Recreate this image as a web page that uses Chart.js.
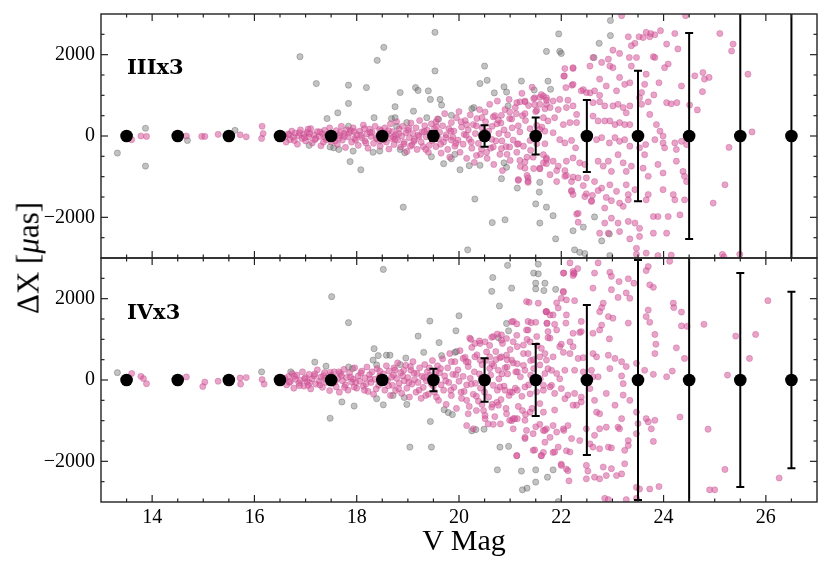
<!DOCTYPE html>
<html><head><meta charset="utf-8">
<script src="https://cdn.jsdelivr.net/npm/chart.js@4"></script>
<style>
body{margin:0;background:#fff;}
#wrap{position:relative;width:831px;height:564px;overflow:hidden;background:#fff;}
canvas{position:absolute;left:0;top:0;}
.lbl{position:absolute;font-family:'Liberation Serif',serif;color:#000;white-space:nowrap;}
.pan{position:absolute;font-family:'DejaVu Serif',serif;font-weight:bold;font-size:21px;line-height:21px;color:#000;white-space:nowrap;}
</style></head>
<body>
<div id="wrap">
<canvas id="cTop" width="831" height="564"></canvas>
<canvas id="cBot" width="831" height="564"></canvas>
<div class="lbl" style="left:28px;top:258px;font-size:31px;line-height:31px;transform:translate(-50%,-50%) rotate(-90deg);">ΔX [<i>μ</i>as]</div>
<div class="lbl" style="left:464px;top:525px;font-size:30px;line-height:30px;transform:translateX(-50%);">V Mag</div>
<div class="pan" style="left:127px;top:56px;">IIIx3</div>
<div class="pan" style="left:127px;top:301px;">IVx3</div>
</div>
<script>
// ---------- data ----------
const magBins = [13.5,14.5,15.5,16.5,17.5,18.5,19.5,20.5,21.5,22.5,23.5,24.5,25.5,26.5];
const topMeans = [0,0,0,0,0,0,0,0,0,0,0,0,0,0];
const topErr   = [20,20,30,40,50,80,120,265,457,884,1605,2533,4000,5500];
const botMeans = [0,0,0,0,0,0,0,0,0,0,0,0,0,0];
const botErr   = [30,30,40,40,60,100,275,535,884,1844,2950,4500,2630,2173];

const xMajorTicks = [14,16,18,20,22,24,26];
const xMinorTicks = [13.5,14.5,15,15.5,16.5,17,17.5,18.5,19,19.5,20.5,21,21.5,22.5,23,23.5,24.5,25,25.5,26.5];
const yMajorTicks = [-2000,0,2000];
const yMinorTicks = [-2500,-1500,-1000,-500,500,1000,1500,2500];

const topGray = [[13.32,-420],[13.87,190],[13.87,-740],[14.69,-110],[15.62,140],
[16.89,1950],[17.21,1290],[17.42,430],[17.63,570],[17.84,1250],[17.84,800],[18.19,1190],[18.40,1860],[18.53,2180],
[17.87,-630],[18.08,-830],[17.93,-370],[17.55,-290],[17.65,-330],[17.48,-270],[17.07,-230],[18.32,-400],[18.45,-370],[18.91,-1750],
[18.85,1070],[18.75,720],[18.68,430],[18.78,240],[18.34,450],[17.84,240],
[19.53,2550],[19.53,1600],[19.15,1190],[19.2,1120],[19.4,1110],[19.44,900],[19.63,900],[19.66,760],[19.11,610],[18.98,330],[18.75,450],[19.37,450],[19.6,410],[19.85,510],[20.25,670],[20.29,700],
[20.5,1720],[20.41,1290],[20.55,1370],[20.69,1060],[20.88,1210],[20.93,1080],[20.96,740],[21.22,1350],[21.47,1130],[21.71,2080],[21.74,1350],[21.79,1150],
[18.85,-330],[18.94,-410],[19.46,-510],[19.7,-680],[19.85,-560],[19.92,-450],[20.02,-830],[20.2,-730],[20.41,-720],[20.31,-1550],[20.65,-2130],[20.9,-2060],[20.17,-2800],[20.83,-1050],[20.88,-660],[20.93,-770],[21.14,-1280],[21.58,-1140],[21.57,-1380],[21.5,-1670],[21.58,-2140],[21.71,-1750],
[21.95,2510],[22.96,2840],[22.96,2470],[22.74,2280],[22.64,1930],[21.97,2080],[22.0,2030],[21.84,-1960],[22.43,-2240],[22.23,-2330],[21.89,-2530],[22.65,-1990],[22.94,-2410],[22.26,-2800],[22.36,-2860],[22.46,-2890],[22.95,-2940],[22.79,-2580]];

const topPink = [[13.6,-90],[13.78,0],[13.89,-10],[14.67,0],[14.97,-10],[15.03,-10],[15.29,40],[15.72,30],[15.84,-20],[16.15,240],[16.17,60],[16.14,-60],[16.45,20],
[16.6,-20],[16.62,-150],[16.66,50],[16.7,-90],[16.73,120],[16.76,-30],[16.8,70],[16.84,-200],[16.87,10],[16.9,150],[16.93,-60],[16.97,40],[17.0,-120],[17.03,90],[17.06,-20],[17.1,180],[17.13,-170],[17.16,30],[17.2,-60],[17.23,110],[17.27,-10],[17.3,-240],[17.33,60],[17.37,140],[17.4,-90],[17.43,20],[17.47,200],[17.5,-140],
[17.53,50],[17.56,-40],[17.6,130],[17.62,-210],[17.66,10],[17.7,240],[17.72,-100],[17.75,60],[17.78,-280],[17.8,150],[17.83,-20],[17.86,80],[17.9,-150],[17.93,200],[17.96,-60],[18.0,30],[18.03,-230],[18.06,120],[18.1,-40],[18.13,270],[18.16,-120],[18.2,50],[18.22,-300],[18.25,170],[18.28,-10],[18.3,90],[18.33,-180],[18.36,240],[18.4,-70],[18.43,20],[18.46,-250],[18.48,130],
[18.52,-30],[18.55,200],[18.58,-150],[18.6,60],[18.63,-320],[18.66,300],[18.68,-60],[18.7,110],[18.73,-210],[18.76,30],[18.78,350],[18.8,-100],[18.83,170],[18.86,-270],[18.88,0],[18.9,240],[18.93,-150],[18.96,80],[18.98,-380],[19.0,140],[19.03,-40],[19.06,320],[19.08,-220],[19.1,60],[19.13,-90],[19.16,200],[19.18,-330],[19.2,20],[19.23,380],[19.26,-150],[19.28,100],[19.3,-260],[19.33,250],[19.36,-20],[19.38,140],[19.4,-400],[19.43,60],[19.46,300],[19.48,-120],
[19.52,180],[19.55,-260],[19.58,420],[19.6,-60],[19.62,90],[19.65,-420],[19.68,250],[19.7,-150],[19.72,550],[19.75,30],[19.78,-330],[19.8,180],[19.82,-520],[19.85,330],[19.88,-30],[19.9,120],[19.92,-250],[19.95,450],[19.98,-100],[20.0,600],[20.02,-400],[20.05,220],[20.08,-200],[20.1,40],[20.12,380],[20.15,-550],[20.18,150],[20.2,-80],[20.22,520],[20.25,-300],[20.28,280],[20.3,-650],[20.32,60],[20.35,430],[20.38,-180],[20.4,650],[20.42,-450],[20.45,200],[20.48,-60],
[20.52,350],[20.55,-550],[20.58,120],[20.6,780],[20.62,-300],[20.65,240],[20.68,-700],[20.7,500],[20.72,-120],[20.75,860],[20.78,60],[20.8,-450],[20.82,320],[20.85,-850],[20.88,150],[20.9,650],[20.92,-260],[20.95,30],[20.98,900],[21.0,-600],[21.03,420],[21.06,-100],[21.1,700],[21.13,-400],[21.16,250],[21.2,-750],[21.23,1050],[21.26,-250],[21.3,380],[21.33,-520],[21.36,750],[21.4,-350],[21.43,1200],[21.46,-800],[21.5,600],[21.53,-30],
[16.68,30],[16.78,-110],[16.88,80],[16.98,-40],[17.08,60],[17.18,-90],[17.28,100],[17.38,-30],[17.48,50],[17.58,-120],[17.68,90],[17.76,-10],[17.88,130],[17.98,-100],[18.08,20],[18.18,-170],[18.26,90],[18.38,-50],[18.45,160],[18.54,-90],[18.62,130],[18.72,-30],[18.82,60],[18.92,-200],[19.02,190],[19.12,-130],[19.22,-10],[19.32,110],[19.42,-230],[19.5,40],[19.56,230],[19.64,-200],[19.74,-40],[19.84,120],[19.94,-180],[20.04,350],[20.14,20],[20.24,-150],[20.34,250],[20.44,-320],[20.5,100],[20.64,-80],[20.74,300],[20.84,-120],[20.94,-450],[21.04,200],[21.14,-200],[21.24,500],
[17.05,170],[17.35,-150],[17.65,-60],[17.95,110],[18.15,180],[18.45,-120],[18.75,-80],[19.05,-250],[19.35,-330],[19.55,350],[19.85,-100],[20.15,280],[20.45,450],
[21.16,-1070],[21.35,-1030],[21.35,-1110],[21.29,-790],[21.58,-790],[21.71,-540],[21.65,-660],[21.13,820],[21.29,840],[21.48,940],[21.65,980],[21.48,770],[21.71,780],
[22.07,1660],[22.23,1660],[22.05,1470],[22.21,1250],[22.43,1140],[22.56,1060],[22.75,1000],[21.19,840],[21.29,860],[21.12,550],[21.29,550],[21.46,920],[21.58,950],[21.71,880],[20.99,430],[20.77,390],[20.51,590],[20.67,470],[20.83,510],[20.99,590],[21.52,630],[21.68,670],[21.19,100],[21.39,180],[21.52,260],[21.62,220],[21.39,-110],[21.52,-190],[21.68,-190],[21.16,-190],[20.99,-270],[20.83,-310],[20.67,-270],[20.54,-400],[20.34,-480],[21.19,-600],[21.29,-640],[21.45,-520],[21.16,-1090],[21.35,-1140],[21.33,-970],[21.58,-810],[21.71,-680],[21.91,-850],[22.07,-850],[22.1,-970],[22.23,-1010],[22.2,-1340],[22.43,-1220],[22.49,-1420],[22.59,-1590],[22.61,-1460],[22.72,-1340],[22.88,-1510],[22.98,-1590],[22.3,-1920],[22.33,-2120],
[24.43,2960],[23.31,2440],[23.52,2440],[23.66,2550],[23.75,2520],[23.83,2490],[23.94,2590],[23.6,2420],[23.73,2440],[24.06,2260],[24.22,2520],[25.1,2520],[25.36,2260],[25.33,2090],[25.65,1520],[23.37,2220],[23.44,2280],[23.01,2110],[23.14,2030],[22.79,1810],[22.92,1890],[22.95,1720],[23.01,1680],[22.62,1930],[22.56,1720],[23.33,1930],[23.47,1930],[23.37,1720],[23.8,1950],[23.83,1930],[24.02,1680],[24.09,1770],[24.28,2140],[24.35,1230],[24.61,1480],[24.77,1560],[24.8,1400],[24.89,1440],[24.76,1090],[24.51,760],[24.66,640],[24.06,820],[24.15,790],[24.26,820],[22.23,1680],[22.06,1480],[22.23,1270],[22.09,1190],[22.39,1110],[22.49,1070],[22.65,1110],[22.75,1400],[22.88,1230],[23.08,1110],[23.14,1440],[23.24,1270],[23.34,1310],[23.66,1520],[23.63,1270],[23.57,1070],[23.81,1010],[23.91,1310],[21.61,1020],[21.71,940],[21.84,860],[21.97,900],[22.13,880],[21.58,780],[21.78,700],[21.94,650],[22.1,700],[22.23,740],[22.3,530],[22.62,820],[22.75,840],[22.85,740],[23.01,740],[23.11,780],[23.21,700],[23.27,570],[23.34,740],[23.53,940],[23.57,780],[23.7,840],[23.73,530],[23.86,280],[23.93,120],[23.99,0],[21.65,450],[21.74,370],[21.87,450],[22.04,280],[22.17,330],[22.3,330],[22.62,490],[22.72,370],[22.85,370],[22.95,370],[23.05,280],[23.14,330],[23.24,280],[23.34,280],[21.58,160],[21.68,120],[21.84,80],[21.97,-90],[22.07,-170],[22.2,-110],[22.28,-290],[22.69,-90],[22.79,-40],[22.94,-170],[23.05,-40],[23.14,-130],[23.24,-90],[23.34,-250],[23.53,-290],[23.65,-210],[23.83,-90],[23.99,-170],[24.02,-290],[24.22,-170],[24.25,-330],[24.35,-130],[24.45,-210],[25.28,-280],[25.73,100],[21.65,-460],[21.71,-580],[21.84,-620],[21.94,-740],[22.1,-620],[22.23,-540],[22.36,-660],[22.46,-700],[22.72,-620],[22.82,-740],[22.92,-620],[22.98,-870],[23.11,-460],[23.21,-660],[23.27,-870],[23.37,-740],[23.63,-460],[23.6,-790],[23.7,-990],[23.89,-700],[23.99,-910],[24.25,-620],[24.38,-870],[24.41,-990],[21.78,-950],[21.91,-1120],[22.07,-990],[22.2,-1120],[22.33,-1030],[22.49,-1030],[22.65,-1120],[22.79,-1280],[22.95,-1200],[23.08,-1360],[23.27,-1200],[23.31,-1440],[23.44,-1320],[23.7,-1440],[23.66,-1570],[23.99,-1320],[24.19,-1440],[24.22,-1570],[24.41,-1570],[24.45,-1120],[25.2,-1200],[24.97,-1650],[22.2,-1360],[22.23,-1440],[22.46,-1490],[22.59,-1610],[22.33,-1900],[22.85,-1770],[22.98,-2020],[23.14,-1650],[23.21,-1730],[23.31,-1570],[22.85,-2140],[23.11,-2140],[23.31,-2100],[23.44,-2140],[23.53,-2270],[23.8,-1980],[23.89,-1980],[24.09,-1980],[24.32,-1940],[22.75,-2390],[22.92,-2390],[23.14,-2350],[23.34,-2530],[23.53,-2470],[23.8,-2390],[24.06,-2390],[23.47,-2910],[23.47,-2760],[23.66,-2880],[23.89,-2940],[24.15,-2930],[25.15,-2910],[25.49,-2910],[25.18,-2970],[23.18,2960]];

const botGray = [[13.32,180],[16.14,200],[16.71,200],[17.18,440],[17.40,340],[17.51,2050],[17.84,1410],[17.71,-540],[17.95,-640],[17.48,-940],[17.84,320],[17.92,280],[18.34,770],[18.42,600],[18.58,610],[18.65,610],[18.52,2720],[18.32,490],[18.39,370],[18.39,-460],[18.52,-610],[18.71,-380],[18.96,540],[18.85,380],[18.93,-430],[18.98,-600],[19.04,-1650],[19.2,1080],
[19.46,-1650],[19.44,-1020],[19.43,1450],[19.61,920],[20.0,1580],[19.94,1210],[19.66,600],[19.31,680],[19.92,680],[19.95,700],[19.71,-730],[19.79,-800],[19.87,-850],[20.25,-1250],[20.33,-1220],[20.49,-1210],[20.64,2180],[20.79,1820],[20.95,2820],[21.03,2260],[20.66,2520],[20.93,1390],[20.97,1210],[20.77,1040],[21.55,2850],[21.46,2630],[21.55,2610],[21.5,2380],[21.5,2240],[21.68,2380],[21.66,2200],[21.89,2230],[20.8,-1650],[20.97,-1630],[20.75,-2210],[21.22,-2240],[21.5,-2210],[21.5,-2510],[21.24,-2700],[21.33,-2660],[21.73,-2390],[21.84,-2210],[21.94,-2990]];

const botPink = [[13.6,160],[13.78,90],[13.83,35],[13.89,-90],[14.67,75],[14.99,-160],[15.03,-50],[15.29,-30],[15.72,50],[15.84,60],[15.73,-100],[16.15,10],[16.19,-100],
[16.6,40],[16.63,-120],[16.67,90],[16.7,-40],[16.74,160],[16.77,-200],[16.8,20],[16.83,120],[16.87,-80],[16.9,-10],[16.94,200],[16.97,-150],[17.0,60],[17.03,-40],[17.07,140],[17.1,-220],[17.13,30],[17.17,100],[17.2,-100],[17.23,250],[17.27,-30],[17.3,70],[17.33,-180],[17.37,180],[17.4,-60],[17.44,10],[17.47,-260],[17.5,120],
[17.53,-80],[17.56,200],[17.6,-170],[17.63,40],[17.66,-300],[17.7,110],[17.72,-20],[17.75,260],[17.78,-120],[17.8,60],[17.83,-250],[17.86,180],[17.9,-50],[17.93,20],[17.96,300],[18.0,-200],[18.03,100],[18.06,-30],[18.1,220],[18.13,-150],[18.16,50],[18.2,320],[18.22,-280],[18.25,130],[18.28,-60],[18.3,200],[18.33,-350],[18.36,20],[18.4,280],[18.43,-130],[18.46,80],[18.48,-40],
[18.52,150],[18.55,-250],[18.58,350],[18.6,-20],[18.63,220],[18.66,-380],[18.68,70],[18.7,-130],[18.73,300],[18.76,-260],[18.78,40],[18.8,420],[18.83,-80],[18.86,180],[18.88,-330],[18.9,100],[18.93,-20],[18.96,360],[18.98,-200],[19.0,60],[19.03,-420],[19.06,240],[19.08,-100],[19.1,450],[19.13,10],[19.16,-300],[19.18,160],[19.2,-60],[19.23,300],[19.26,-450],[19.28,90],[19.3,-180],[19.33,380],[19.36,-20],[19.38,200],[19.4,-350],[19.43,120],[19.46,-100],[19.48,480],
[19.52,-300],[19.55,60],[19.58,350],[19.6,-500],[19.62,180],[19.65,-120],[19.68,520],[19.7,-250],[19.72,100],[19.75,-600],[19.78,300],[19.8,-60],[19.82,650],[19.85,-380],[19.88,140],[19.9,-180],[19.92,450],[19.95,-700],[19.98,250],[20.0,-30],[20.02,720],[20.05,-450],[20.08,90],[20.1,-280],[20.12,560],[20.15,-120],[20.18,330],[20.2,-650],[20.22,40],[20.25,800],[20.28,-350],[20.3,200],[20.32,-80],[20.35,620],[20.38,-520],[20.4,150],[20.42,-200],[20.45,380],[20.48,-750],
[20.52,480],[20.55,-50],[20.58,-420],[20.6,850],[20.62,120],[20.65,-600],[20.68,350],[20.7,-900],[20.72,700],[20.75,-250],[20.78,30],[20.8,550],[20.82,-480],[20.85,900],[20.88,-150],[20.9,300],[20.92,-700],[20.95,150],[20.98,-380],[21.0,750],[21.03,-1000],[21.06,420],[21.1,-200],[21.13,1100],[21.16,-650],[21.2,80],[21.23,-400],[21.26,650],[21.3,-850],[21.33,1000],[21.36,-120],[21.4,480],[21.43,-700],[21.46,280],[21.5,-1150],[21.53,850],
[16.68,-60],[16.78,90],[16.88,-140],[16.98,30],[17.08,-70],[17.18,150],[17.28,-120],[17.38,40],[17.48,190],[17.58,-40],[17.68,160],[17.76,-180],[17.88,70],[17.98,-60],[18.08,170],[18.18,-100],[18.26,30],[18.38,-220],[18.45,220],[18.54,40],[18.62,-140],[18.72,120],[18.82,-210],[18.92,240],[19.02,-60],[19.12,170],[19.22,-250],[19.32,60],[19.42,300],[19.5,-150],[19.56,-420],[19.64,280],[19.74,-20],[19.84,-250],[19.94,130],[20.04,-300],[20.14,450],[20.24,-100],[20.34,-400],[20.44,60],[20.5,-300],[20.64,400],[20.74,-550],[20.84,150],[20.94,500],[21.04,-300],[21.14,200],[21.24,-750],
[17.05,-130],[17.35,110],[17.65,200],[17.95,-170],[18.15,-250],[18.45,100],[18.75,250],[19.05,330],[19.35,-380],[19.55,200],[19.85,450],[20.15,-500],[20.45,-600],
[20.21,1030],[20.41,900],[20.67,1070],[20.83,1110],[21.06,1440],[21.35,1440],[21.52,1070],[21.35,1230],[20.15,-1120],[20.28,-1200],[20.51,-950],[20.67,-1090],[20.99,-990],[21.13,-1860],[21.29,-1440],[21.45,-1730],[21.61,-1860],[21.71,-1200],[21.32,1930],[21.71,1680],
[21.37,1910],[21.55,1890],[21.7,1680],[21.78,1600],[21.91,1900],[22.04,2180],[22.05,2630],[22.25,2610],[22.23,2670],[22.0,2010],[22.1,1970],[21.03,1430],[21.13,1380],[21.32,1230],[21.41,1410],[21.5,1420],[21.72,1390],[21.74,1190],[21.91,1230],[20.23,1000],[20.31,900],[20.4,960],[20.51,940],[20.64,1050],[20.75,1130],[20.83,980],[20.93,1020],[21.06,940],[21.14,820],[21.26,860],[21.39,940],[20.08,530],[20.18,440],[20.31,570],[20.41,490],[20.54,690],[20.6,570],[20.72,500],[20.83,570],[20.93,610],[21.03,490],[21.14,400],[21.26,360],[21.35,650],[21.45,500],[21.58,570],[21.71,490],[20.6,280],[20.77,240],[20.94,320],[21.11,200],[21.29,240],[21.4,120],[21.59,30],[21.68,160],[21.81,240],[21.97,30],[20.67,-130],[20.8,-170],[20.9,-250],[21.0,-290],[21.14,-250],[21.29,-170],[21.39,-340],[21.52,-290],[21.65,-250],[21.81,-130],[20.18,-830],[20.34,-750],[20.51,-870],[20.64,-670],[20.77,-620],[20.93,-830],[21.06,-950],[21.14,-950],[21.29,-990],[21.39,-790],[20.57,-1080],[20.81,-1080],[21.09,-950],[21.32,-1240],[21.45,-1320],[21.58,-1090],[21.65,-1240],[21.78,-1410],[21.91,-1280],[22.05,-1240],[21.06,-1200],[21.13,-1860],[21.29,-1410],[21.48,-1720],[21.65,-1780],[21.84,-1780],[21.94,-1650],[22.1,-1740],[22.0,-2070],[22.1,-2190],[22.15,-2480],
[22.17,2880],[22.04,2630],[22.25,2630],[22.23,2570],[22.32,2740],[22.65,2630],[22.72,2880],[22.95,2650],[22.98,2550],[23.13,2420],[23.31,2490],[23.42,2380],[23.66,2690],[23.7,2790],[23.73,2340],[23.8,2280],[24.12,2920],
[22.04,2160],[22.26,1950],[22.62,2260],[22.82,1890],[22.79,1780],[22.75,1680],[22.98,2220],[23.11,2030],[23.27,2140],[23.34,2010],[21.71,1680],[21.84,1600],[21.94,1770],[22.1,1600],[22.09,1400],[21.87,1370],[21.72,1400],[22.39,1440],[22.36,1170],[22.23,1150],[22.79,1350],[22.92,1560],[23.01,1520],[23.31,1400],[23.7,1720],[23.66,1560],[23.73,1420],[24.19,1890],[24.2,1780],[24.35,1670],[24.35,1330],[24.46,1320],[24.79,1370],
[21.78,1030],[21.74,1040],[22.0,880],[22.17,940],[22.39,1190],[22.62,1150],[22.75,1230],[22.94,1010],[23.83,1120],[23.85,880],[24.25,790],[23.83,650],[24.41,530],[25.41,1080],[25.8,1120],[25.68,530],[26.04,1950],
[21.61,780],[21.68,650],[21.84,570],[21.97,820],[22.04,680],[22.17,650],[22.23,820],[22.33,530],[22.43,550],[22.62,650],[22.69,570],[22.92,610],[23.05,530],[23.18,450],[23.27,330],[23.47,410],[23.63,240],[23.8,140],[21.58,370],[21.74,280],[21.91,160],[22.07,240],[22.26,240],[22.43,200],[22.59,240],[22.62,80],[22.72,80],[22.95,280],[23.18,100],[23.21,-90],[24.06,80],[24.17,220],[25.25,120],
[21.65,-130],[21.78,-170],[21.87,-330],[22.0,-210],[22.13,-370],[22.26,-330],[22.39,-420],[22.56,-210],[22.65,-500],[22.69,-790],[22.75,-830],[22.88,-330],[23.05,-620],[23.21,-370],[23.34,-500],[23.47,-790],[23.66,-950],[23.83,-990],[24.32,-910],[24.87,-1210],[21.58,-580],[21.65,-790],[21.87,-740],[22.07,-460],[22.23,-620],[22.3,-620],[22.39,-540],
[21.68,-1240],[21.84,-1120],[22.04,-1200],[22.13,-1120],[22.2,-1440],[22.36,-1490],[22.49,-1200],[22.56,-1570],[22.65,-1360],[22.75,-1200],[22.88,-1160],[23.11,-1160],[23.14,-1200],[23.18,-950],[23.31,-1490],[23.47,-1320],[23.5,-1070],[23.7,-1030],[23.8,-1510],[23.76,-1200],
[21.68,-1530],[21.87,-1770],[22.17,-1770],[22.62,-1650],[22.75,-1690],[22.92,-1650],[22.98,-1670],[23.24,-1730],[23.31,-1610],[21.61,-1860],[22.0,-2100],[22.13,-2230],[22.49,-2100],[22.52,-2240],[22.82,-2140],[22.98,-2180],[23.08,-2350],[23.18,-2310],[23.24,-2060],
[22.49,-2430],[22.65,-2390],[22.75,-2430],[22.88,-2350],[23.47,-2640],[23.53,-2680],[23.73,-2680],[23.91,-2620],[25.2,-2200],[24.9,-2700],[25.0,-2700],[26.26,-2410],[22.85,-2910],[22.92,-2940],[23.27,-2940],[23.47,-2910]];

// ---------- helpers ----------
const toXY = arr => arr.map(p => ({x: p[0], y: p[1]}));
const TICKFONT = {family: "'Liberation Serif', serif", size: 20};
const AX = '#222';

const frameTicks = {
  id: 'frameTicks',
  afterDraw(chart) {
    const {ctx, chartArea: a} = chart;
    const xs = chart.scales.x, ys = chart.scales.y;
    ctx.save();
    ctx.strokeStyle = AX;
    ctx.lineWidth = 1.2;
    const tick = (x1, y1, x2, y2) => { ctx.beginPath(); ctx.moveTo(x1, y1); ctx.lineTo(x2, y2); ctx.stroke(); };
    xMajorTicks.forEach(v => { const p = xs.getPixelForValue(v); tick(p, a.bottom, p, a.bottom - 7); tick(p, a.top, p, a.top + 7); });
    xMinorTicks.forEach(v => { const p = xs.getPixelForValue(v); tick(p, a.bottom, p, a.bottom - 3.5); tick(p, a.top, p, a.top + 3.5); });
    yMajorTicks.forEach(v => { const p = ys.getPixelForValue(v); tick(a.left, p, a.left + 7, p); tick(a.right, p, a.right - 7, p); });
    yMinorTicks.forEach(v => { const p = ys.getPixelForValue(v); tick(a.left, p, a.left + 3.5, p); tick(a.right, p, a.right - 3.5, p); });
    ctx.lineWidth = 1.4;
    ctx.strokeRect(a.left, a.top, a.right - a.left, a.bottom - a.top);
    ctx.restore();
  }
};

const errBars = {
  id: 'errBars',
  beforeDatasetDraw(chart, args, opts) {
    if (args.index !== 0) return;
    const {ctx, chartArea: a} = chart;
    const xs = chart.scales.x, ys = chart.scales.y;
    ctx.save();
    ctx.beginPath(); ctx.rect(a.left, a.top, a.right - a.left, a.bottom - a.top); ctx.clip();
    ctx.strokeStyle = '#000';
    ctx.lineWidth = 2;
    magBins.forEach((m, i) => {
      const px = xs.getPixelForValue(m);
      const yt = ys.getPixelForValue(opts.means[i] + opts.errs[i]);
      const yb = ys.getPixelForValue(opts.means[i] - opts.errs[i]);
      ctx.beginPath(); ctx.moveTo(px, yt); ctx.lineTo(px, yb);
      ctx.moveTo(px - 4, yt); ctx.lineTo(px + 4, yt);
      ctx.moveTo(px - 4, yb); ctx.lineTo(px + 4, yb);
      ctx.stroke();
    });
    ctx.restore();
  }
};

function makeChart(id, gray, pink, means, errs, showX, pad) {
  return new Chart(document.getElementById(id), {
    type: 'scatter',
    data: {
      datasets: [
        {label: 'mean', data: magBins.map((m, i) => ({x: m, y: means[i]})), pointRadius: 6.3, backgroundColor: '#000', borderWidth: 0},
        {label: 'pink', data: toXY(pink), pointRadius: 3.1, backgroundColor: 'rgba(215,85,155,0.55)', borderColor: 'rgba(185,70,130,0.45)', borderWidth: 0.7},
        {label: 'gray', data: toXY(gray), pointRadius: 3.1, backgroundColor: 'rgba(110,110,110,0.42)', borderColor: 'rgba(70,70,70,0.45)', borderWidth: 0.7}
      ]
    },
    options: {
      responsive: false, animation: false, events: [],
      layout: {padding: pad},
      plugins: {legend: {display: false}, tooltip: {enabled: false}, errBars: {means: means, errs: errs}},
      scales: {
        x: {
          type: 'linear', min: 13, max: 27, display: showX,
          afterBuildTicks: s => { s.ticks = xMajorTicks.map(v => ({value: v})); },
          afterFit: s => { if (showX) s.height = 62; s.paddingLeft = 0; s.paddingRight = 0; },
          grid: {display: false, drawTicks: false}, border: {display: false},
          ticks: {font: TICKFONT, color: '#000', padding: 4, maxRotation: 0, autoSkip: false}
        },
        y: {
          type: 'linear', min: -3000, max: 3000,
          afterBuildTicks: s => { s.ticks = yMajorTicks.map(v => ({value: v})); },
          afterFit: s => { s.width = 60; s.paddingTop = 0; s.paddingBottom = 0; },
          grid: {display: false, drawTicks: false}, border: {display: false},
          ticks: {font: TICKFONT, color: '#000', padding: 6, autoSkip: false,
                  callback: v => v < 0 ? '\u2212' + Math.abs(v) : String(v)}
        }
      }
    },
    plugins: [errBars, frameTicks]
  });
}

makeChart('cTop', topGray, topPink, topMeans, topErr, false, {left: 41, top: 14, right: 14, bottom: 306});
makeChart('cBot', botGray, botPink, botMeans, botErr, true, {left: 41, top: 258, right: 14, bottom: 0});
</script>
</body></html>
